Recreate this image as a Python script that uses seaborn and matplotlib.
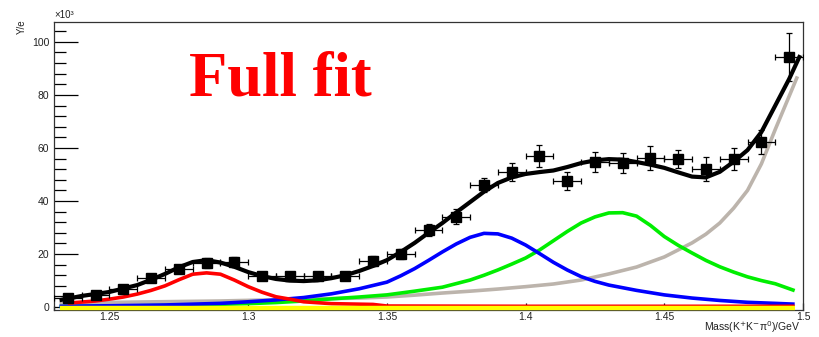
import numpy as np
import pandas as pd
import matplotlib
matplotlib.use("Agg")
import matplotlib.pyplot as plt
from matplotlib.ticker import MultipleLocator, FormatStrFormatter
import seaborn as sns

# Binned data: bin centres (GeV), yields (x10^3) and their errors
mass_bins = [1.235, 1.245, 1.255, 1.265, 1.275, 1.285, 1.295, 1.305, 1.315,
             1.325, 1.335, 1.345, 1.355, 1.365, 1.375, 1.385, 1.395, 1.405,
             1.415, 1.425, 1.435, 1.445, 1.455, 1.465, 1.475, 1.485, 1.495]
yields = [3.4, 4.5, 6.8, 10.9, 14.3, 16.6, 17.0, 11.7, 11.7,
          11.7, 11.7, 17.4, 20.0, 29.1, 34.0, 46.0, 50.9, 57.0,
          47.5, 54.7, 54.3, 56.2, 55.8, 52.1, 55.8, 62.3, 94.3]
yield_err = [1.0, 1.0, 1.2, 1.5, 1.5, 1.8, 1.8, 1.5, 1.5,
             1.5, 1.5, 1.8, 1.8, 2.3, 2.8, 2.6, 3.5, 4.0,
             3.5, 3.8, 3.8, 4.5, 3.5, 4.5, 4.0, 4.5, 9.0]
bin_half_width = 0.005

# Fit components
total_x = [1.232, 1.24, 1.25, 1.26, 1.265, 1.27, 1.275, 1.28, 1.285, 1.29,
           1.295, 1.30, 1.305, 1.31, 1.315, 1.32, 1.325, 1.33, 1.335, 1.34,
           1.345, 1.35, 1.355, 1.36, 1.365, 1.37, 1.375, 1.38, 1.385, 1.39,
           1.395, 1.40, 1.405, 1.41, 1.415, 1.42, 1.425, 1.43, 1.435, 1.44,
           1.445, 1.45, 1.455, 1.46, 1.465, 1.47, 1.475, 1.48, 1.485, 1.49,
           1.495, 1.499]
total_y = [2.6, 4.2, 5.7, 8.3, 10.3, 12.5, 15.0, 17.0, 17.7, 16.8,
           15.2, 13.2, 11.7, 10.6, 10.0, 9.8, 10.1, 10.9, 12.0, 13.6,
           15.5, 17.7, 20.8, 24.2, 28.0, 31.7, 35.7, 39.6, 43.5, 46.8,
           48.9, 50.2, 50.9, 51.5, 52.8, 54.3, 55.3, 55.8, 55.6, 54.7,
           53.7, 52.5, 50.8, 49.2, 48.9, 51.0, 54.8, 59.2, 66.0, 76.0,
           86.0, 95.0]

red_x = [1.235, 1.24, 1.245, 1.25, 1.255, 1.26, 1.265, 1.27, 1.275, 1.28,
         1.285, 1.29, 1.295, 1.30, 1.305, 1.31, 1.315, 1.32, 1.33, 1.345,
         1.35, 1.40, 1.45, 1.497]
red_y = [1.5, 1.9, 2.3, 3.0, 3.8, 4.9, 6.3, 8.0, 10.3, 12.4,
         12.9, 12.4, 10.2, 7.7, 5.6, 3.9, 3.0, 2.0, 1.3, 1.0,
         0.4, 0.3, 0.3, 0.3]

blue_x = [1.232, 1.25, 1.27, 1.29, 1.30, 1.31, 1.32, 1.33, 1.34, 1.35,
          1.355, 1.36, 1.365, 1.37, 1.375, 1.38, 1.385, 1.39, 1.395, 1.40,
          1.405, 1.41, 1.415, 1.42, 1.425, 1.43, 1.44, 1.45, 1.46, 1.47,
          1.48, 1.49, 1.497]
blue_y = [0.3, 0.5, 0.8, 1.4, 2.0, 2.7, 3.6, 5.0, 6.9, 9.4,
          11.8, 14.5, 17.6, 20.8, 23.8, 26.3, 27.8, 27.6, 26.0, 23.4,
          20.2, 16.9, 14.0, 11.5, 9.7, 8.3, 6.3, 4.6, 3.4, 2.5,
          1.8, 1.4, 1.1]

green_x = [1.232, 1.26, 1.28, 1.30, 1.31, 1.32, 1.33, 1.34, 1.35, 1.36,
           1.37, 1.38, 1.385, 1.39, 1.395, 1.40, 1.405, 1.41, 1.415, 1.42,
           1.425, 1.43, 1.435, 1.44, 1.445, 1.45, 1.455, 1.46, 1.465, 1.47,
           1.475, 1.48, 1.485, 1.49, 1.497]
green_y = [0.2, 0.5, 0.8, 1.3, 1.7, 2.3, 3.1, 3.8, 4.6, 6.0,
           7.5, 10.2, 12.0, 14.0, 16.2, 18.5, 21.5, 25.0, 28.5, 31.7,
           34.0, 35.5, 35.6, 34.3, 30.8, 26.6, 23.3, 20.4, 17.6, 15.2,
           13.2, 11.4, 10.0, 8.8, 6.2]

bkg_x = [1.232, 1.26, 1.29, 1.32, 1.34, 1.35, 1.36, 1.37, 1.38, 1.39,
         1.40, 1.41, 1.42, 1.43, 1.44, 1.45, 1.46, 1.465, 1.47, 1.475,
         1.48, 1.485, 1.49, 1.495, 1.498]
bkg_y = [1.5, 1.9, 2.3, 3.0, 3.4, 3.8, 4.5, 5.3, 6.0, 6.8,
         7.7, 8.7, 10.2, 12.5, 15.1, 18.9, 24.2, 27.5, 31.7, 37.3,
         44.0, 54.0, 67.0, 79.5, 87.0]

flat_x = [1.232, 1.497]
flat_y = [-0.3, -0.3]

sns.set_style("ticks")
plt.rcParams["font.family"] = ["Liberation Sans", "DejaVu Sans"]

fig = plt.figure(figsize=(8.19, 3.37), dpi=100)
ax = fig.add_axes([54 / 819, 27 / 337, (803 - 54) / 819, (310 - 22) / 337])

line_kw = dict(ax=ax, estimator=None, sort=False, legend=False)
sns.lineplot(x=flat_x, y=flat_y, color="#ffff00", lw=3.2, zorder=6, **line_kw)
sns.lineplot(x=bkg_x, y=bkg_y, color="#bcb4ac", lw=2.6, zorder=2, **line_kw)
sns.lineplot(x=green_x, y=green_y, color="#00ee00", lw=2.6, zorder=2.2, **line_kw)
sns.lineplot(x=blue_x, y=blue_y, color="#0000ff", lw=2.6, zorder=2.4, **line_kw)
sns.lineplot(x=red_x, y=red_y, color="#ff0000", lw=2.6, zorder=2.6, **line_kw)
sns.lineplot(x=total_x, y=total_y, color="black", lw=3.0, zorder=3, **line_kw)
for ln in ax.lines:
    ln.set_solid_capstyle("butt")
ax.lines[0].set_clip_on(False)

ax.errorbar(mass_bins, yields, yerr=yield_err, xerr=bin_half_width,
            fmt="s", color="black", ms=6.5, elinewidth=0.9, capsize=2.5,
            capthick=0.9, zorder=4)

ax.set_xlim(1.23, 1.5)
ax.set_ylim(-1.1, 107.5)
ax.xaxis.set_major_locator(MultipleLocator(0.05))
ax.xaxis.set_minor_locator(MultipleLocator(0.01))
ax.yaxis.set_major_locator(MultipleLocator(20))
ax.yaxis.set_minor_locator(MultipleLocator(4))
ax.xaxis.set_major_formatter(FormatStrFormatter("%g"))
ax.yaxis.set_major_formatter(FormatStrFormatter("%g"))

ax.tick_params(axis="both", which="both", direction="in", color="black",
               width=0.9, labelsize=7.5, labelcolor="#222222",
               top=False, right=False)
ax.tick_params(axis="y", which="major", length=17, pad=3.5)
ax.tick_params(axis="y", which="minor", length=8.6)
ax.tick_params(axis="x", which="major", length=5, pad=1.5)
ax.tick_params(axis="x", which="minor", length=2.6)
for sp in ax.spines.values():
    sp.set_visible(True)
    sp.set_linewidth(0.9)
    sp.set_color("#333333")

ax.set_xlabel("")
ax.set_ylabel("")
fig.text(22 / 819, 1 - 19 / 337, "Y/e", rotation=90, ha="center", va="top",
         fontsize=7, color="#222222")
fig.text(54 / 819, 1 - 20 / 337, "×10³", ha="left", va="bottom",
         fontsize=7, color="#222222")
fig.text(800 / 819, 1 - 335 / 337, "Mass(K$^{+}$K$^{-}$π$^{0}$)/GeV",
         ha="right", va="bottom", fontsize=7.5, color="#222222")
fig.text(189 / 819, 1 - 95 / 337, "Full fit", ha="left", va="baseline",
         fontsize=45, fontweight="bold", color="#ff0000",
         family=["Liberation Serif", "DejaVu Serif"])

fig.savefig("out.png", dpi=100)
